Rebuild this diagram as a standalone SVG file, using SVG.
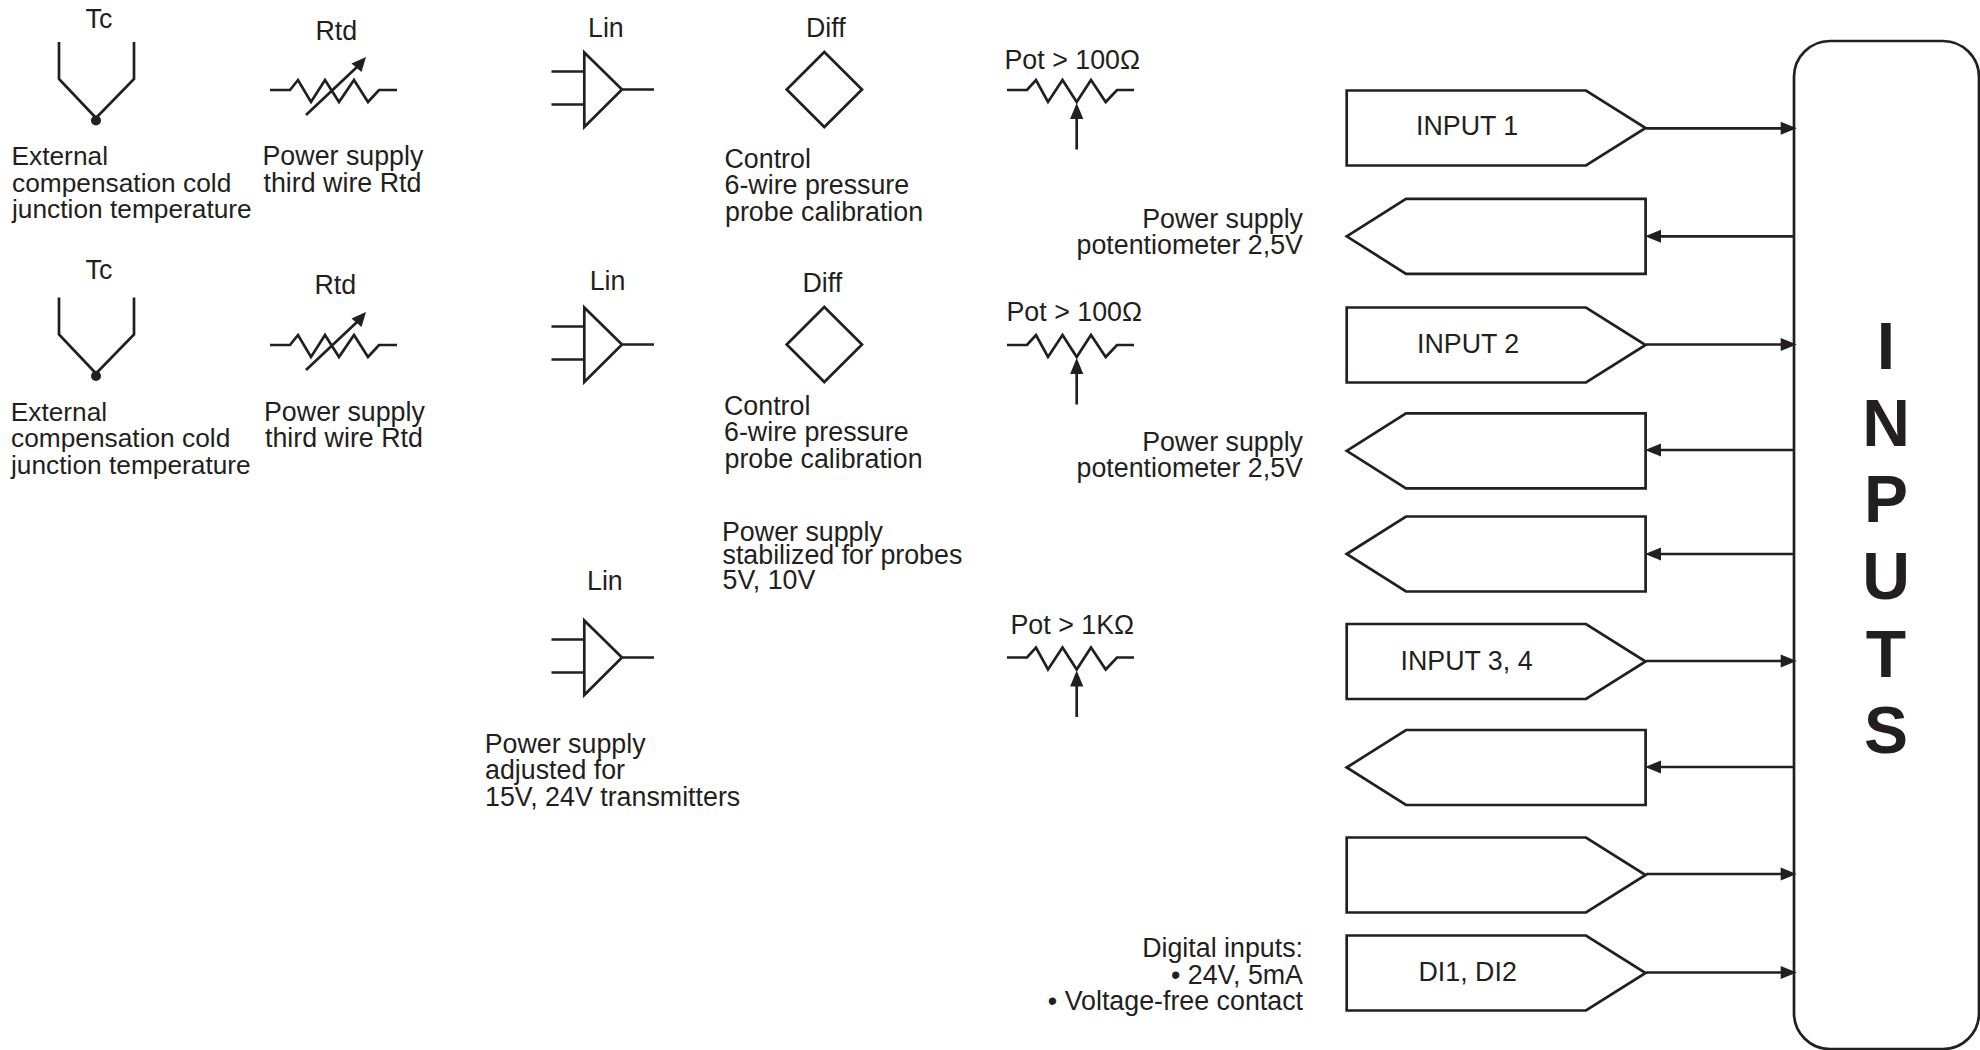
<svg xmlns="http://www.w3.org/2000/svg" width="1980" height="1050" viewBox="0 0 1980 1050">
<style>
text{font-family:"Liberation Sans",Arial,sans-serif;font-size:26.8px;fill:#231f20}
text.c{font-size:26.3px}
.l{fill:none;stroke:#231f20;stroke-width:2.7;stroke-linejoin:miter}
.f{fill:#231f20}
.e{text-anchor:end}
text.big{font-weight:bold;font-size:66px;text-anchor:middle}
</style>
<rect width="1980" height="1050" fill="#fff"/>
<defs>
<g id="tc"><path class="l" d="M59 42V79L96 118L134 79V42"/><circle class="f" cx="96" cy="120.500" r="5"/></g>
<g id="rtd"><path class="l" d="M270 90H290L298 80L311 102L325 80L339 102L354 80L368 102L379 90H397M306 115L357 67"/><path class="f" d="M366 57L351.500 63.500L361.500 72Z"/></g>
<g id="lin"><path class="l" d="M584.300 52.500V127L622 89.500ZM551.500 71.500H584M551.500 104.500H584M622 89.500H654"/></g>
<g id="diff"><path class="l" d="M824.300 52L862 89.500L824.300 127L786.700 89.500Z"/></g>
<g id="pot"><path class="l" d="M1007 90H1027L1036 80L1048 102L1062.500 80L1076.700 102L1091 80L1105.700 102L1117 90H1134M1076.700 118V149.500"/><path class="f" d="M1076.700 103L1083.300 119H1070.100Z"/></g>
<path id="r" class="l" d="M1346.700 0H1586L1645.600 37.500L1586 75H1346.700Z"/>
<path id="p" class="l" d="M1346.700 37.500L1406 0H1645.600V75H1406Z"/>
<path id="ah" class="f" d="M0 0L-16 -6.500V6.500Z"/>
</defs>
<g id="tc1"><use href="#tc"/><text x="85.500" y="28">Tc</text><text class="c" x="11.500" y="165">External</text><text class="c" x="12" y="192">compensation cold</text><text class="c" x="12" y="218">junction temperature</text></g>
<g id="rtd1"><use href="#rtd"/><text x="315.500" y="40">Rtd</text><text x="262.500" y="165">Power supply</text><text x="263.500" y="192">third wire Rtd</text></g>
<g id="lin1"><use href="#lin"/><text x="588" y="37">Lin</text></g>
<g id="diff1"><use href="#diff"/><text x="806" y="37">Diff</text><text x="724.500" y="167.500">Control</text><text x="724.500" y="194">6-wire pressure</text><text x="725" y="220.500">probe calibration</text></g>
<g id="pot1"><use href="#pot"/><text x="1004.500" y="69">Pot &gt; 100Ω</text></g>
<g id="tc2"><use href="#tc" y="255.500"/><text x="85.500" y="278.500">Tc</text><text class="c" x="10.700" y="420.700">External</text><text class="c" x="11" y="447.300">compensation cold</text><text class="c" x="11" y="473.500">junction temperature</text></g>
<g id="rtd2"><use href="#rtd" y="255"/><text x="314.500" y="293.500">Rtd</text><text x="264" y="420.500">Power supply</text><text x="265" y="446.700">third wire Rtd</text></g>
<g id="lin2"><use href="#lin" y="255"/><text x="589.700" y="290">Lin</text></g>
<g id="diff2"><use href="#diff" y="255"/><text x="802.500" y="291.500">Diff</text><text x="724" y="414.500">Control</text><text x="724" y="441">6-wire pressure</text><text x="724.500" y="467.500">probe calibration</text></g>
<g id="pot2"><use href="#pot" y="255"/><text x="1006.500" y="320.700">Pot &gt; 100Ω</text></g>
<g id="lin3"><use href="#lin" y="568"/><text x="587" y="589.500">Lin</text><text x="484.700" y="752.500">Power supply</text><text x="485" y="778.500">adjusted for</text><text x="485" y="805.500">15V, 24V transmitters</text></g>
<g id="psu"><text x="722" y="540.500">Power supply</text><text x="722.500" y="564">stabilized for probes</text><text x="722.500" y="588.500">5V, 10V</text></g>
<g id="pot3"><use href="#pot" y="567.500"/><text x="1010.500" y="633.500">Pot &gt; 1KΩ</text></g>
<g id="b1"><use href="#r" y="90.500"/><text x="1416" y="135">INPUT 1</text></g>
<g id="b2"><use href="#p" y="198.800"/><text class="e" x="1303" y="228">Power supply</text><text class="e" x="1303" y="254">potentiometer 2,5V</text></g>
<g id="b3"><use href="#r" y="307.500"/><text x="1417" y="352.700">INPUT 2</text></g>
<g id="b4"><use href="#p" y="413.300"/><text class="e" x="1303" y="450.700">Power supply</text><text class="e" x="1303" y="477">potentiometer 2,5V</text></g>
<g id="b5"><use href="#p" y="516.500"/></g>
<g id="b6"><use href="#r" y="624"/><text x="1400.500" y="670">INPUT 3, 4</text></g>
<g id="b7"><use href="#p" y="730"/></g>
<g id="b8"><use href="#r" y="837.500"/></g>
<g id="b9"><use href="#r" y="935.500"/><text x="1418.500" y="980.700">DI1, DI2</text><text class="e" x="1303" y="956.700">Digital inputs:</text><text class="e" x="1303" y="984">• 24V, 5mA</text><text class="e" x="1303" y="1010">• Voltage-free contact</text></g>
<g id="panel"><rect class="l" x="1794" y="41" width="185" height="1008" rx="36" ry="36"/>
<text class="big" x="1886" y="369">I</text><text class="big" x="1886" y="445.700">N</text><text class="big" x="1886" y="522.300">P</text><text class="big" x="1886" y="599">U</text><text class="big" x="1886" y="676.700">T</text><text class="big" x="1886" y="752.500">S</text></g>
<g id="connectors">
<path class="l" d="M1646 128.300H1782M1646 344.500H1782M1646 661H1782M1646 874H1782M1646 972.500H1782M1660 236.300H1794M1660 450H1794M1660 554H1794M1660 767H1794"/>
<use href="#ah" x="1796.700" y="128.300"/><use href="#ah" x="1796.700" y="344.500"/><use href="#ah" x="1796.700" y="661"/><use href="#ah" x="1796.700" y="874"/><use href="#ah" x="1796.700" y="972.500"/>
<use href="#ah" transform="translate(1645 236.300) scale(-1 1)"/><use href="#ah" transform="translate(1645 450) scale(-1 1)"/><use href="#ah" transform="translate(1645 554) scale(-1 1)"/><use href="#ah" transform="translate(1645 767) scale(-1 1)"/>
</g>
</svg>
